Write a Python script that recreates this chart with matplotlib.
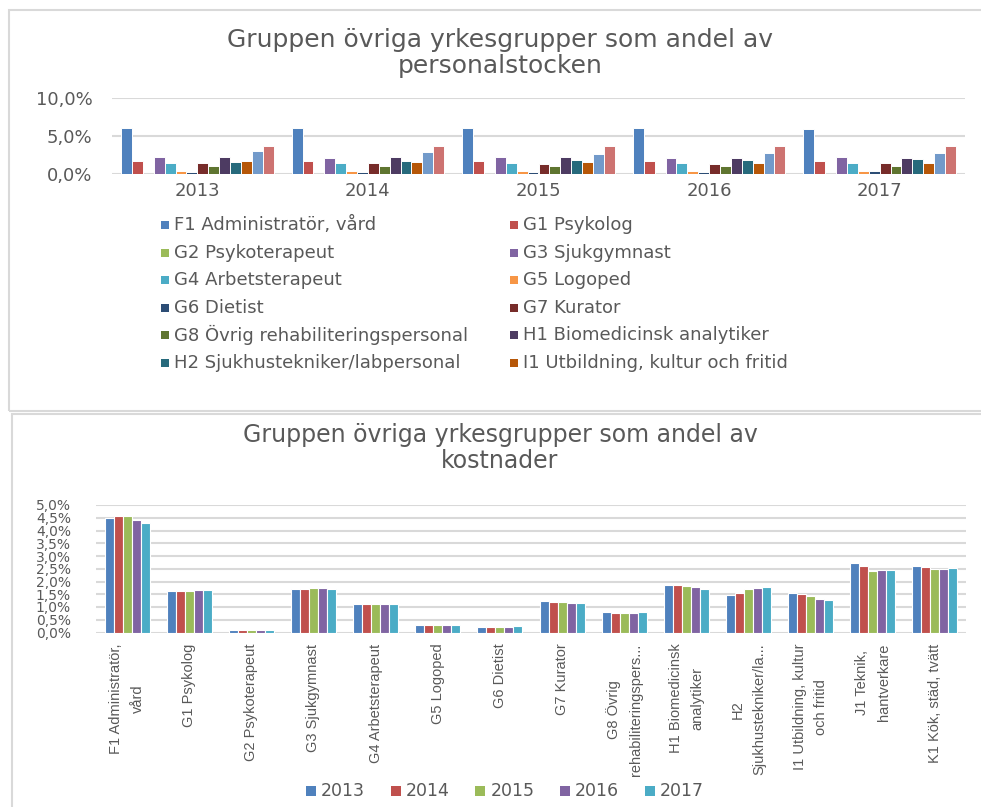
import matplotlib
matplotlib.use('Agg')
import numpy as np
import matplotlib.pyplot as plt
import matplotlib.patches as patches
from matplotlib.ticker import FuncFormatter

W, H = 981, 807
GRAY_TXT = '#595959'
GRID = '#d9d9d9'

years = ['2013', '2014', '2015', '2016', '2017']

# top chart: share of staff (%), one list per group, 2013..2017
staff_F1 = [6.1, 6.1, 6.1, 6.0, 5.9]
staff_G1 = [1.7, 1.7, 1.7, 1.7, 1.7]
staff_G2 = [0.02, 0.02, 0.02, 0.02, 0.02]
staff_G3 = [2.2, 2.1, 2.2, 2.1, 2.2]
staff_G4 = [1.4, 1.4, 1.4, 1.4, 1.4]
staff_G5 = [0.4, 0.4, 0.4, 0.4, 0.4]
staff_G6 = [0.25, 0.25, 0.25, 0.25, 0.35]
staff_G7 = [1.4, 1.4, 1.3, 1.3, 1.4]
staff_G8 = [1.0, 1.0, 1.0, 1.0, 1.0]
staff_H1 = [2.2, 2.2, 2.2, 2.1, 2.1]
staff_H2 = [1.6, 1.7, 1.9, 1.9, 2.0]
staff_I1 = [1.7, 1.6, 1.6, 1.4, 1.4]
staff_J1 = [3.0, 2.9, 2.6, 2.7, 2.7]
staff_K1 = [3.75, 3.75, 3.65, 3.75, 3.75]

staff_names = ['F1 Administratör, vård', 'G1 Psykolog', 'G2 Psykoterapeut',
               'G3 Sjukgymnast', 'G4 Arbetsterapeut', 'G5 Logoped', 'G6 Dietist',
               'G7 Kurator', 'G8 Övrig rehabiliteringspersonal',
               'H1 Biomedicinsk analytiker', 'H2 Sjukhustekniker/labpersonal',
               'I1 Utbildning, kultur och fritid', 'J1 Teknik, hantverkare',
               'K1 Kök, städ, tvätt']
staff_series = [staff_F1, staff_G1, staff_G2, staff_G3, staff_G4, staff_G5, staff_G6,
                staff_G7, staff_G8, staff_H1, staff_H2, staff_I1, staff_J1, staff_K1]
staff_colors = ['#4f81bd', '#c0504d', '#9bbb59', '#8064a2', '#4bacc6', '#f79646',
                '#2c4d75', '#772c2a', '#5f7530', '#4d3b62', '#276a7c', '#b65708',
                '#729aca', '#cd7371']

# bottom chart: share of costs (%), one list per year
cost_labels = ['F1 Administratör,\nvård', 'G1 Psykolog', 'G2 Psykoterapeut',
               'G3 Sjukgymnast', 'G4 Arbetsterapeut', 'G5 Logoped', 'G6 Dietist',
               'G7 Kurator', 'G8 Övrig\nrehabiliteringspers...',
               'H1 Biomedicinsk\nanalytiker', 'H2\nSjukhustekniker/la...',
               'I1 Utbildning, kultur\noch fritid', 'J1 Teknik,\nhantverkare',
               'K1 Kök, städ, tvätt']
cost_2013 = [4.48, 1.63, 0.08, 1.72, 1.12, 0.30, 0.21, 1.25, 0.81, 1.85, 1.48, 1.54, 2.72, 2.61]
cost_2014 = [4.56, 1.63, 0.08, 1.72, 1.12, 0.30, 0.21, 1.21, 0.77, 1.85, 1.54, 1.50, 2.61, 2.58]
cost_2015 = [4.56, 1.63, 0.08, 1.76, 1.12, 0.30, 0.21, 1.19, 0.77, 1.81, 1.70, 1.44, 2.43, 2.49]
cost_2016 = [4.43, 1.67, 0.08, 1.76, 1.12, 0.30, 0.21, 1.15, 0.77, 1.79, 1.74, 1.32, 2.45, 2.49]
cost_2017 = [4.30, 1.67, 0.08, 1.72, 1.12, 0.30, 0.25, 1.15, 0.81, 1.72, 1.79, 1.28, 2.45, 2.52]
cost_series = [cost_2013, cost_2014, cost_2015, cost_2016, cost_2017]
year_colors = ['#4f81bd', '#c0504d', '#9bbb59', '#8064a2', '#4bacc6']


def fx(px):
    return px / W


def fy(py):
    return 1 - py / H


def pct(v, pos):
    return ('%.1f%%' % v).replace('.', ',')


def style_axis(ax):
    for s in ax.spines.values():
        s.set_visible(False)
    ax.yaxis.grid(True, color=GRID, linewidth=1.5)
    ax.set_axisbelow(True)
    ax.tick_params(length=0, colors=GRAY_TXT)
    ax.yaxis.set_major_formatter(FuncFormatter(pct))


def legend_entry(fig, x, y, color, label, size, box=9):
    fig.add_artist(patches.Rectangle((fx(x), fy(y + box / 2)), box / W, box / H,
                                     transform=fig.transFigure, facecolor=color,
                                     edgecolor='none'))
    fig.text(fx(x + box + 5), fy(y), label, fontsize=size, color=GRAY_TXT,
             ha='left', va='center')


fig = plt.figure(figsize=(W / 100, H / 100), dpi=100)
plt.rcParams['font.family'] = ['DejaVu Sans']

# panel frames
fig.add_artist(patches.Rectangle((fx(9), fy(411)), (W - 5) / W, 401 / H,
                                 transform=fig.transFigure, fill=False,
                                 edgecolor=GRID, linewidth=1.5))
fig.add_artist(patches.Rectangle((fx(12), fy(H + 5)), (W - 8) / W, (H - 414 + 5) / H,
                                 transform=fig.transFigure, fill=False,
                                 edgecolor=GRID, linewidth=1.5))

# ---- top chart
ax1 = fig.add_axes([fx(112), fy(174), (965 - 112) / W, (174 - 98) / H])
style_axis(ax1)
n = len(staff_series)
slot = 0.894 / n
x = np.arange(len(years))
for i, vals in enumerate(staff_series):
    ax1.bar(x - 0.447 + slot * (i + 0.5), vals, width=slot, color=staff_colors[i],
            edgecolor='white', linewidth=0.7)
ax1.set_xlim(-0.5, len(years) - 0.5)
ax1.set_ylim(0, 10)
ax1.set_yticks([0, 5, 10])
ax1.set_xticks(x)
ax1.set_xticklabels(years, fontsize=13)
ax1.tick_params(axis='y', labelsize=13, pad=14)
ax1.tick_params(axis='x', pad=6)
fig.text(fx(500), fy(40), 'Gruppen övriga yrkesgrupper som andel av',
         fontsize=18, color=GRAY_TXT, ha='center', va='center')
fig.text(fx(500), fy(66), 'personalstocken',
         fontsize=18, color=GRAY_TXT, ha='center', va='center')

# legend, 2 columns, last two groups cut off like in the original
for k in range(12):
    col = k % 2
    row = k // 2
    lx = 161 if col == 0 else 510
    ly = 225 + row * 27.6
    legend_entry(fig, lx, ly, staff_colors[k], staff_names[k], 13, box=8)

# ---- bottom chart
ax2 = fig.add_axes([fx(96), fy(632.5), (966 - 96) / W, (632.5 - 505) / H])
style_axis(ax2)
m = len(cost_labels)
slot2 = 0.725 / len(cost_series)
x2 = np.arange(m)
for j, vals in enumerate(cost_series):
    ax2.bar(x2 - 0.3625 + slot2 * (j + 0.5), vals, width=slot2, color=year_colors[j],
            edgecolor='white', linewidth=0.8)
ax2.set_xlim(-0.5, m - 0.5)
ax2.set_ylim(0, 5)
ax2.set_yticks(np.arange(0, 5.01, 0.5))
ax2.set_xticks(x2)
ax2.set_xticklabels(cost_labels, rotation=90, ha='center', va='top',
                    multialignment='center', fontsize=10.5,
                    family=['Liberation Sans Narrow', 'Liberation Sans'],
                    linespacing=1.7)
ax2.tick_params(axis='y', labelsize=10, pad=18)
ax2.tick_params(axis='x', pad=8)
fig.text(fx(500), fy(435), 'Gruppen övriga yrkesgrupper som andel av',
         fontsize=17, color=GRAY_TXT, ha='center', va='center')
fig.text(fx(500), fy(461), 'kostnader',
         fontsize=17, color=GRAY_TXT, ha='center', va='center')

for j, yr in enumerate(years):
    legend_entry(fig, 306 + j * 84.7, 791, year_colors[j], yr, 12.5, box=10)

fig.savefig('out.png', dpi=100)
